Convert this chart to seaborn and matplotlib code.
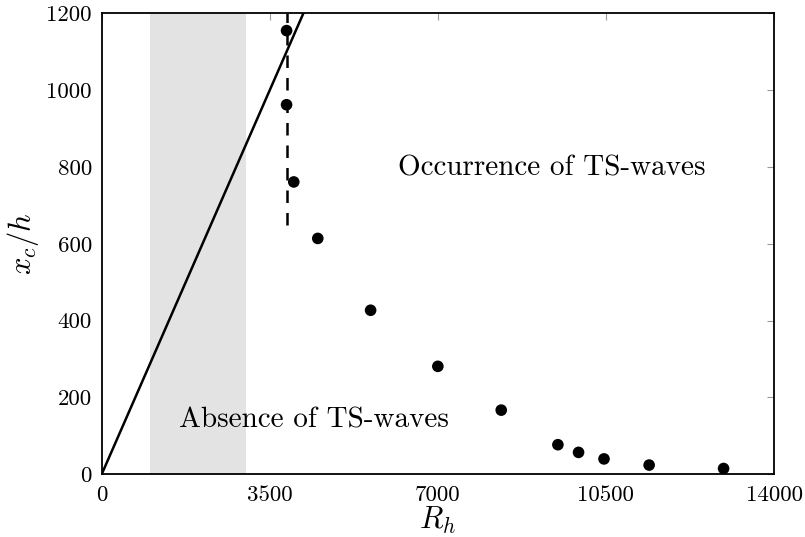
import matplotlib
matplotlib.use("Agg")
import matplotlib.pyplot as plt
import seaborn as sns
import pandas as pd

# Data
R_h = [3850, 3850, 4000, 4500, 5600, 7000, 8320, 9500, 9930, 10460, 11400, 12950]
xc_h = [1155, 962, 761, 614, 427, 281, 167, 77, 57, 40, 24, 15]

line_x = [0, 4200]
line_y = [0, 1200]

shade_range = [1000, 3000]
dash_x = [3860, 3860]
dash_y = [650, 1200]

x_ticks = [0, 3500, 7000, 10500, 14000]
y_ticks = [0, 200, 400, 600, 800, 1000, 1200]

sns.set_style("white")
plt.rcParams['mathtext.fontset'] = 'cm'
plt.rcParams['font.family'] = ['cmr10', 'DejaVu Serif']
plt.rcParams['axes.unicode_minus'] = False
plt.rcParams['text.color'] = 'black'
plt.rcParams['axes.labelcolor'] = 'black'
plt.rcParams['xtick.labelcolor'] = 'black'
plt.rcParams['ytick.labelcolor'] = 'black'

fig = plt.figure(figsize=(8.05, 5.37), dpi=100)
ax = fig.add_axes([0.1263, 0.1168, 0.8352, 0.8584])

ax.axvspan(shade_range[0], shade_range[1], color='#e3e3e3', lw=0, zorder=0)

sns.lineplot(x=line_x, y=line_y, ax=ax, color='black', lw=1.8, zorder=2)
ax.plot(dash_x, dash_y, color='black', lw=1.8, ls=(0, (5, 4)), zorder=2)

df = pd.DataFrame({"R_h": R_h, "xc_h": xc_h})
sns.scatterplot(data=df, x="R_h", y="xc_h", ax=ax, color='black', s=70,
                edgecolor='none', zorder=3)

ax.set_xlim(0, 14000)
ax.set_ylim(0, 1200)
ax.set_xticks(x_ticks)
ax.set_yticks(y_ticks)
ax.set_xticklabels([str(v) for v in x_ticks])
ax.set_yticklabels([str(v) for v in y_ticks])
ax.tick_params(direction='in', length=5, width=0.8, color='#999999',
               labelcolor='black', top=True, right=True, labelsize=16.5)
ax.tick_params(axis='x', pad=8)
ax.tick_params(axis='y', pad=7)
for s in ax.spines.values():
    s.set_linewidth(1.3)
    s.set_color('black')

ax.set_xlabel(r'$R_h$', fontsize=22, labelpad=0, color='black')
ax.set_ylabel(r'$x_c/h$', fontsize=22, labelpad=4, color='black')

ax.text(9380, 797, 'Occurrence of TS-waves', fontsize=21, ha='center', va='center', color='black')
ax.text(4420, 141, 'Absence of TS-waves', fontsize=21, ha='center', va='center', color='black')

fig.savefig('out.png', dpi=100)
